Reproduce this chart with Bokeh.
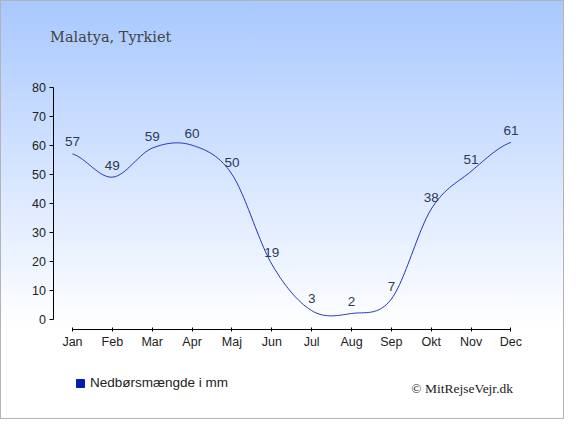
import numpy as np
from bokeh.plotting import figure
from bokeh.models import FixedTicker, Label, Legend, LegendItem, ColumnDataSource, LabelSet, LinearAxis
from bokeh.core.properties import value
from bokeh.embed import file_html
from bokeh.resources import INLINE

months = ["Jan", "Feb", "Mar", "Apr", "Maj", "Jun", "Jul", "Aug", "Sep", "Okt", "Nov", "Dec"]
precip = [57, 49, 59, 60, 50, 19, 3, 2, 7, 38, 51, 61]
y_ticks = [0, 10, 20, 30, 40, 50, 60, 70, 80]
title_text = "Malatya, Tyrkiet"
series_name = "Nedbørsmængde i mm"
credit_text = "© MitRejseVejr.dk"

x = np.arange(len(precip), dtype=float)
y = np.array(precip, dtype=float)

# smooth (Catmull-Rom style) rendering of the line through the data points
m = np.empty_like(y)
m[1:-1] = (y[2:] - y[:-2]) / 2
m[0] = (y[1] - y[0]) / 2
m[-1] = (y[-1] - y[-2]) / 2
t = np.linspace(0, 1, 25)
h00 = 2 * t**3 - 3 * t**2 + 1
h10 = t**3 - 2 * t**2 + t
h01 = -2 * t**3 + 3 * t**2
h11 = t**3 - t**2
xs, ys = [], []
for i in range(len(y) - 1):
    seg = h00 * y[i] + h10 * m[i] + h01 * y[i + 1] + h11 * m[i + 1]
    last = i == len(y) - 2
    xs.extend(x[i] + t if last else (x[i] + t)[:-1])
    ys.extend(seg if last else seg[:-1])

W, H = 564, 419
px_x = 39.86          # pixels per month
px_y = 2.901          # pixels per mm
x0_pix, y0_pix = 72.0, 318.8   # pixel of Jan / 0 mm
x_start = -x0_pix / px_x
x_end = (W - x0_pix) / px_x
y_start = (y0_pix - H) / px_y
y_end = y0_pix / px_y

p = figure(width=W, height=H, x_range=(x_start, x_end), y_range=(y_start, y_end),
           output_backend="svg", toolbar_location=None,
           min_border=0, x_axis_type=None, y_axis_type=None)
p.styles = {"background-image": "linear-gradient(to bottom, #a8c8ff 0%, #ffffff 78%)",
            "box-shadow": "inset 0 0 0 1px #b4b4b4"}
p.background_fill_alpha = 0
p.border_fill_alpha = 0
p.outline_line_color = None
p.xgrid.visible = False
p.ygrid.visible = False

line = p.line(xs, ys, line_color="#2233bb", line_width=1)

src = ColumnDataSource(dict(x=x, y=y, lab=[str(v) for v in precip]))
p.add_layout(LabelSet(x="x", y="y", text="lab", source=src, text_align="center",
                      text_baseline="alphabetic", y_offset=7.5,
                      text_font=value("Liberation Sans"), text_font_size=value("13.5px"),
                      text_color="#2b3a55"))

xaxis = LinearAxis(fixed_location=-(328.5 - y0_pix) / px_y,
                   ticker=FixedTicker(ticks=list(range(len(months)))),
                   major_label_overrides={i: mth for i, mth in enumerate(months)},
                   bounds=(0, len(months) - 1))
yaxis = LinearAxis(fixed_location=(52.5 - x0_pix) / px_x,
                   ticker=FixedTicker(ticks=y_ticks), bounds=(0, 80))
for ax in (xaxis, yaxis):
    ax.axis_line_color = "black"
    ax.major_tick_line_color = "black"
    ax.minor_tick_line_color = None
    ax.major_label_text_font = "Liberation Sans"
    ax.major_label_text_font_size = "12.5px"
    ax.major_label_text_color = "#222222"
xaxis.major_tick_in = 2
xaxis.major_tick_out = 2
xaxis.major_label_standoff = 4
yaxis.major_tick_in = 0
yaxis.major_tick_out = 4
yaxis.major_label_standoff = 3
p.add_layout(xaxis, "below")
p.add_layout(yaxis, "left")

p.add_layout(Label(x=49.6, y=H - 36.6, x_units="screen", y_units="screen", text=title_text,
                   text_font="DejaVu Serif", text_font_size="14.5px", text_color="#444444",
                   text_baseline="alphabetic"))
p.add_layout(Label(x=512.5, y=H - 388, x_units="screen", y_units="screen", text=credit_text,
                   text_font="Liberation Serif", text_font_size="13.5px", text_color="#222222",
                   text_align="right", text_baseline="alphabetic"))

# legend swatch renderer: a single NaN row so the legend can draw its square
dummy = p.quad(left=[np.nan], right=[np.nan], top=[np.nan], bottom=[np.nan],
               fill_color="#0022aa", line_color="#0022aa")
legend = Legend(items=[LegendItem(label=series_name, renderers=[dummy])],
                location=(75, H - 390), border_line_color=None, background_fill_alpha=0,
                glyph_width=10, glyph_height=10, label_height=14, label_text_font="Liberation Sans",
                label_text_font_size="13.5px", label_text_color="#222222",
                padding=0, margin=0, label_standoff=5)
p.add_layout(legend, "center")

open("out.html", "w").write(file_html(p, INLINE))
